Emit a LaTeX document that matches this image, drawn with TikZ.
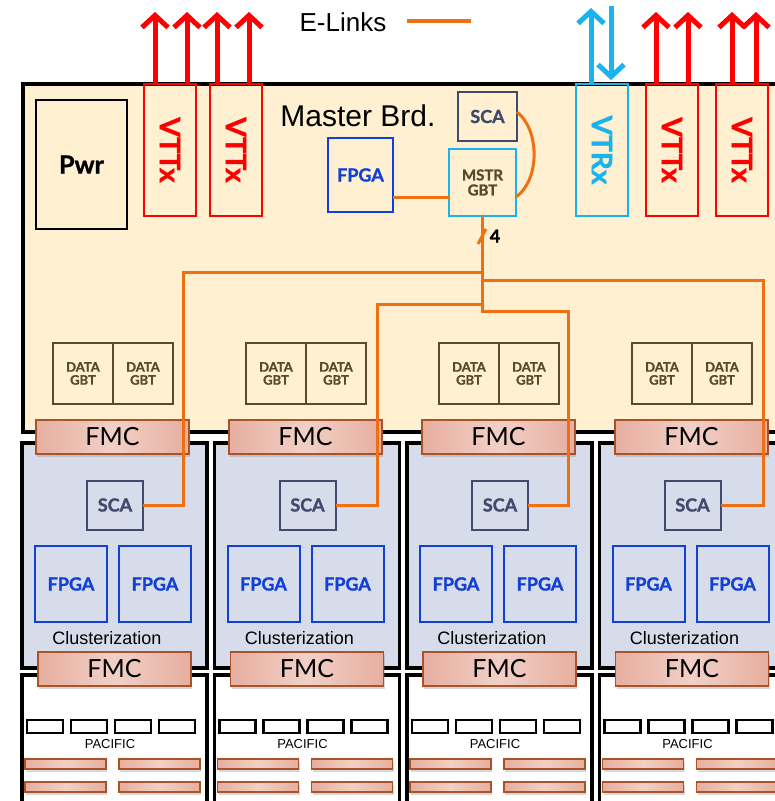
\documentclass[tikz,border=0pt]{standalone}
\usepackage{fontspec}
\newfontfamily\gillf{Lato}
\newfontfamily\gillbf{Lato}[BoldFeatures={FakeBold=1.3}]
\newfontfamily\arialf{Liberation Sans}
\usetikzlibrary{arrows.meta,shadows,calc}
\newcommand\fsz[1]{\fontsize{#1}{#1}\selectfont}
\definecolor{cream}{HTML}{FEF0D0}
\definecolor{bboard}{HTML}{D6DCEA}
\definecolor{fblue}{HTML}{1240D2}
\definecolor{slate}{HTML}{3F4A6C}
\definecolor{cyanx}{HTML}{19B3EE}
\definecolor{redx}{HTML}{FF0000}
\definecolor{orng}{HTML}{EE7012}
\definecolor{brn}{HTML}{594A2D}
\definecolor{fmce}{HTML}{E6AE9F}
\definecolor{fmcm}{HTML}{F2D0C6}
\definecolor{fmcl}{HTML}{A8532A}
\begin{document}
\begin{tikzpicture}[x=1pt,y=-1pt,
 every node/.style={inner sep=0pt,outer sep=0pt},
 chip/.style={draw,line width=2pt,align=center,font=\gillbf\bfseries},
 vtbox/.style={chip,draw=redx,text=redx,rotate=-90,minimum width=132pt,minimum height=52pt,font=\gillbf\bfseries\fsz{28}},
 fpgabox/.style={chip,draw=fblue,text=fblue,font=\gillbf\bfseries\fsz{18}},
 scabox/.style={chip,draw=slate,text=slate,font=\gillbf\bfseries\fsz{18},minimum width=56pt,minimum height=49pt},
 dgbt/.style={chip,draw=brn,text=brn,font=\gillbf\bfseries\fsz{13},minimum width=60pt,minimum height=61pt},
 board/.style={draw=black,line width=3.5pt},
 fmc/.style={draw=fmcl,line width=1.5pt,left color=fmce,right color=fmce,middle color=fmcm,minimum width=153pt,minimum height=34pt,font=\gillf\fsz{25},drop shadow={shadow xshift=1pt,shadow yshift=-3pt,opacity=0.3}},
 pbar/.style={fmc,minimum width=81pt,minimum height=10pt,line width=1.2pt},
 pchip/.style={draw,line width=2.5pt,fill=white,minimum width=36pt,minimum height=13pt},
 elink/.style={draw=orng,line width=3pt},
 uparrow/.style={line width=5pt,-{Straight Barb[length=12pt,width=26pt]}}
]
\useasboundingbox (0,0) rectangle (775,801);
\fill[white] (0,0) rectangle (775,801);
\begin{scope}
\clip (0,0) rectangle (775,801);
% master board
\draw[board,fill=cream] (23,84) rectangle (795,432);
\node[chip,draw=black,minimum width=91pt,minimum height=129pt,font=\gillbf\bfseries\fsz{25}] (pwr) at (81.5,164.5) {Pwr};
\node[vtbox] (vt1) at (170,150) {VTTx};
\node[vtbox] (vt2) at (236,150) {VTTx};
\node[vtbox,draw=cyanx,text=cyanx] (vr) at (602,150) {VTRx};
\node[vtbox] (vt3) at (672,150) {VTTx};
\node[vtbox] (vt4) at (742,150) {VTTx};
\node[font=\arialf\fsz{30}] (mtitle) at (358,116) {Master Brd.};
\node[fpgabox,minimum width=65pt,minimum height=74pt] (fpgaM) at (360.5,175) {FPGA};
\node[scabox,minimum width=59pt] (scaM) at (487.5,116.5) {SCA};
\node[chip,draw=cyanx,text=brn,font=\gillbf\bfseries\fsz{15},minimum width=67pt,minimum height=67pt] (mstr) at (482.5,182.5) {MSTR\\GBT};
% columns
\foreach \i in {1,...,4}{
 \pgfmathsetmacro{\xm}{(\i-1)*193}
 \pgfmathsetmacro{\xl}{22+(\i-1)*192.5}
 \node[dgbt] (dga\i) at (83+\xm,373.5) {DATA\\GBT};
 \node[dgbt] (dgb\i) at (143+\xm,373.5) {DATA\\GBT};
 \draw[board,fill=bboard] (\xl,443) rectangle ++(185,225);
 \draw[board,fill=white] (\xl,675) rectangle ++(185,150);
 \node[scabox] (sca\i) at (\xl+93,505) {SCA};
 \node[fpgabox,minimum width=72pt,minimum height=76pt] (fpa\i) at (\xl+49,584) {FPGA};
 \node[fpgabox,minimum width=72pt,minimum height=76pt] (fpb\i) at (\xl+133,584) {FPGA};
 \node[font=\arialf\fsz{18}] (clu\i) at (\xl+85,638) {Clusterization};
 \node[fmc] (fmct\i) at (112.5+\xm,437) {FMC};
 \node[fmc] (fmcb\i) at (\xl+92.5,669) {FMC};
 \foreach \k in {0,...,3} \node[pchip] (pc\i\k) at (\xl+23+44*\k,726.5) {};
 \node[font=\arialf\fsz{13}] (pac\i) at (\xl+88,744) {PACIFIC};
 \node[pbar] (bra\i) at (\xl+43.5,764) {};
 \node[pbar] (brb\i) at (\xl+137.5,764) {};
 \node[pbar] (brc\i) at (\xl+43.5,787) {};
 \node[pbar] (brd\i) at (\xl+137.5,787) {};
}
% E-links
\coordinate (b1) at (183,272);
\coordinate (b2) at (377,304);
\coordinate (b3) at (568,311);
\coordinate (b4) at (763,280);
\foreach \i in {1,...,4} \draw[elink] (mstr.south) |- (b\i) |- (sca\i.east);
\coordinate (fl) at ([yshift=-22pt]fpgaM.east);
\draw[elink] (fl) -- (fl -| mstr.west);
\draw[elink] ([yshift=4.5pt]scaM.east) .. controls (540,130) and (540,180) .. ([yshift=-14.5pt]mstr.east);
\coordinate (sl1) at (478,244);
\coordinate (sl2) at (486,229);
\draw[elink] (sl1) -- (sl2);
\node[font=\gillbf\bfseries\fsz{18}] (four) at (495,236) {4};
% legend
\node[font=\arialf\fsz{26}] (elinks) at (343,22) {E-Links};
\coordinate (lg1) at (407,21);
\coordinate (lg2) at (471,21);
\draw[elink,line width=4pt] (lg1) -- (lg2);
% optical arrows
\draw[uparrow,draw=redx] ([xshift=-15pt]vt1.west) -- ++(0,-72);
\draw[uparrow,draw=redx] ([xshift=17pt]vt1.west) -- ++(0,-72);
\draw[uparrow,draw=redx] ([xshift=-19pt]vt2.west) -- ++(0,-72);
\draw[uparrow,draw=redx] ([xshift=13pt]vt2.west) -- ++(0,-72);
\draw[uparrow,draw=redx] ([xshift=-16pt]vt3.west) -- ++(0,-72);
\draw[uparrow,draw=redx] ([xshift=16pt]vt3.west) -- ++(0,-72);
\draw[uparrow,draw=redx] ([xshift=-10pt]vt4.west) -- ++(0,-72);
\draw[uparrow,draw=redx] ([xshift=14pt]vt4.west) -- ++(0,-72);
\draw[uparrow,draw=cyanx] ([xshift=-11pt]vr.west) -- ++(0,-76);
\draw[uparrow,draw=cyanx] ([xshift=9pt,yshift=78pt]vr.west) -- ([xshift=9pt,yshift=4pt]vr.west);
\end{scope}
\end{tikzpicture}
\end{document}
